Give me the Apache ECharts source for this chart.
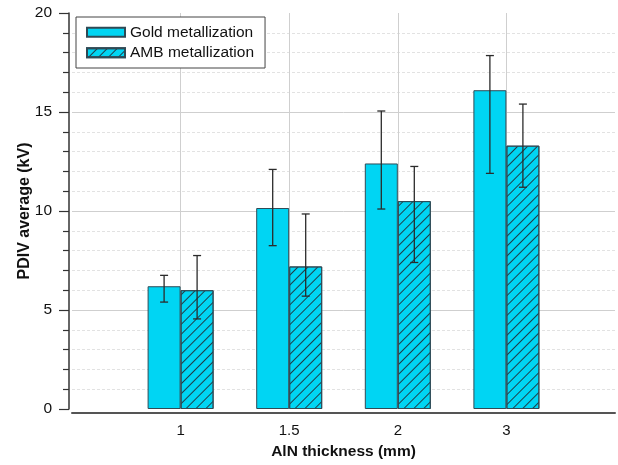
<!DOCTYPE html>
<html><head><meta charset="utf-8">
<script src="https://cdn.jsdelivr.net/npm/echarts@6/dist/echarts.min.js"></script>
<style>html,body{margin:0;padding:0;background:#fff;overflow:hidden}#c{width:618px;height:465px}</style>
</head><body><div id="c"></div>
<script>
const categories = ['1', '1.5', '2', '3'];
const goldValues = [6.2, 10.15, 12.4, 16.1];
const goldLow = [5.4, 8.25, 10.1, 11.9];
const goldHigh = [6.75, 12.1, 15.05, 17.85];
const ambValues = [6.0, 7.2, 10.5, 13.3];
const ambLow = [4.55, 5.7, 7.4, 11.2];
const ambHigh = [7.75, 9.85, 12.25, 15.4];
const yTicks = [0, 5, 10, 15, 20];

const FONT = "'Liberation Sans', Arial, sans-serif";
const BAR_W = 33;
const FILL = '#00d5f3';
const EDGE = '#2f4a55';

const axisCats = [''].concat(categories, ['']);
const pad = a => [null].concat(a, [null]);

const chart = echarts.init(document.getElementById('c'), null, {renderer: 'canvas'});

const hatch = {
  symbol: 'rect', symbolSize: 1,
  dashArrayX: [1, 0], dashArrayY: [1, 5.6],
  rotation: -Math.PI / 4, color: '#1f3c48'
};

function errorSeries(name, low, high, side) {
  return {
    type: 'custom', name: name, z: 10, silent: true,
    data: low.map((l, i) => [i + 1, l, high[i]]),
    encode: {x: 0, y: [1, 2]},
    renderItem: function (params, api) {
      const x = api.value(0);
      const lo = api.coord([x, api.value(1)]);
      const hi = api.coord([x, api.value(2)]);
      const cx = lo[0] + side * BAR_W / 2;
      const cap = 4;
      const st = {stroke: '#2b2b2b', lineWidth: 1.3};
      return {type: 'group', children: [
        {type: 'line', shape: {x1: cx, y1: hi[1], x2: cx, y2: lo[1]}, style: st},
        {type: 'line', shape: {x1: cx - cap, y1: hi[1], x2: cx + cap, y2: hi[1]}, style: st},
        {type: 'line', shape: {x1: cx - cap, y1: lo[1], x2: cx + cap, y2: lo[1]}, style: st}
      ]};
    }
  };
}

chart.setOption({
  animation: false,
  backgroundColor: '#fff',
  textStyle: {fontFamily: FONT},
  grid: {left: 72, right: 0, top: 13, bottom: 55, containLabel: false},
  legend: {
    data: ['Gold metallization', 'AMB metallization'],
    orient: 'vertical', left: 76, top: 17,
    itemWidth: 38, itemHeight: 9, itemGap: 2,
    padding: [6, 11, 6, 10],
    borderColor: '#444', borderWidth: 1, backgroundColor: '#fff',
    icon: 'rect',
    textStyle: {fontSize: 15.5, color: '#111', fontFamily: FONT, lineHeight: 18.5}
  },
  xAxis: {
    type: 'category', data: axisCats, boundaryGap: false,
    name: 'AlN thickness (mm)', nameLocation: 'middle', nameGap: 31,
    nameMoveOverlap: false,
    nameTextStyle: {fontSize: 15.5, fontWeight: 'bold', color: '#111', fontFamily: FONT},
    offset: 4,
    axisLine: {onZero: false, lineStyle: {color: '#555', width: 2}},
    axisTick: {show: false},
    axisLabel: {fontSize: 15, color: '#111', margin: 10, interval: 0, fontFamily: FONT},
    splitLine: {show: true, interval: (i) => i > 0 && i < axisCats.length - 1,
      lineStyle: {color: '#cfcfcf', width: 1}}
  },
  yAxis: {
    type: 'value', min: yTicks[0], max: yTicks[yTicks.length - 1], interval: yTicks[1] - yTicks[0],
    name: 'PDIV average (kV)', nameLocation: 'middle', nameGap: 36,
    nameMoveOverlap: false,
    nameTextStyle: {fontSize: 16, fontWeight: 'bold', color: '#111', fontFamily: FONT},
    offset: 3,
    axisLine: {show: true, lineStyle: {color: '#333', width: 1.5}},
    axisTick: {show: true, length: 10, lineStyle: {color: '#333', width: 1.2}},
    minorTick: {show: true, splitNumber: 5, length: 6, lineStyle: {color: '#333', width: 1.2}},
    axisLabel: {fontSize: 15.5, color: '#111', margin: 17, fontFamily: FONT},
    splitLine: {show: true, showMinLine: false, showMaxLine: false, lineStyle: {color: '#cfcfcf', width: 1}},
    minorSplitLine: {show: true, lineStyle: {color: '#e2e2e2', type: [3, 2], width: 1}}
  },
  series: [
    {
      name: 'Gold metallization', type: 'bar', data: pad(goldValues),
      barWidth: BAR_W, barGap: '0%',
      itemStyle: {color: FILL, borderColor: EDGE, borderWidth: 1}
    },
    {
      name: 'AMB metallization', type: 'bar', data: pad(ambValues),
      barWidth: BAR_W, barGap: '0%',
      itemStyle: {color: FILL, borderColor: EDGE, borderWidth: 1, decal: hatch}
    },
    errorSeries('goldErr', goldLow, goldHigh, -1),
    errorSeries('ambErr', ambLow, ambHigh, 1)
  ]
});
</script>
</body></html>
